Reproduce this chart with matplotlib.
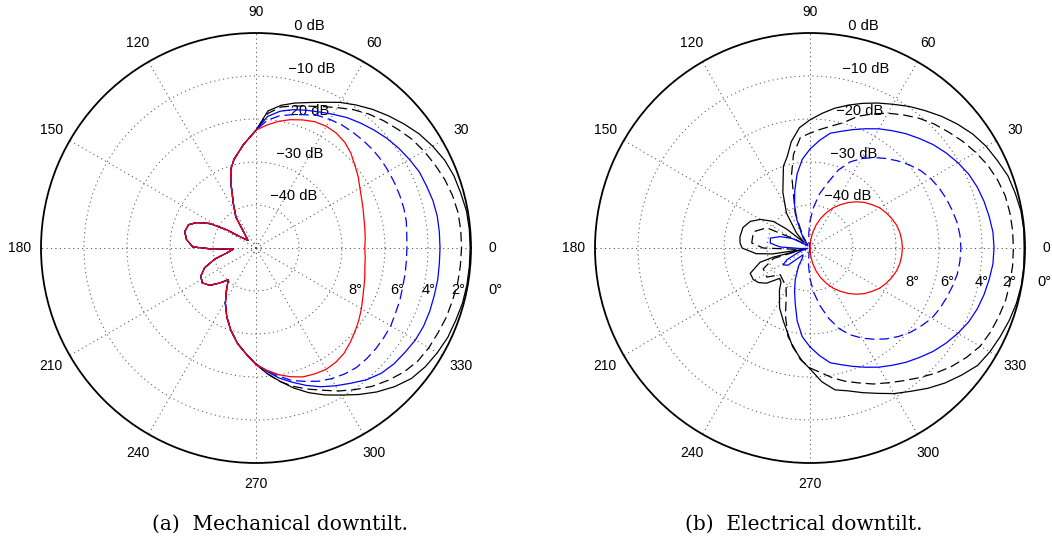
import numpy as np
import matplotlib.pyplot as plt

plt.rcParams['font.family'] = ['Liberation Sans', 'DejaVu Sans']
plt.rcParams['lines.scale_dashes'] = False

# azimuth samples (deg) of the front half, shared by all front-lobe arrays
front_deg = list(range(-90, 95, 5))

# ---- (a) mechanical downtilt: front lobe per tilt + shared back part (dB) ----
mech_0 = [-23.0, -20.7, -18.6, -16.3, -14.2, -12.3, -10.5, -8.4, -6.3, -4.4, -2.8, -1.9,
          -1.3, -0.8, -0.6, -0.3, -0.2, -0.2, -0.2, -0.2, -0.3, -0.7, -1.0, -1.6, -2.6,
          -3.7, -5.1, -6.5, -7.9, -9.4, -10.9, -12.6, -14.0, -15.1, -16.3, -18.0, -22.6]
mech_2 = [-23.0, -20.7, -18.5, -16.7, -15.1, -13.5, -11.6, -9.8, -8.0, -6.5, -5.1, -4.1,
          -3.6, -3.3, -2.9, -2.7, -2.4, -2.3, -2.2, -2.2, -2.3, -2.7, -3.3, -4.1, -4.9,
          -5.8, -7.0, -8.1, -9.3, -10.7, -12.3, -13.7, -14.9, -15.8, -16.7, -18.6, -22.6]
mech_4 = [-23.0, -21.2, -19.3, -17.7, -16.0, -14.4, -13.0, -11.6, -10.0, -8.8, -8.1, -7.7,
          -7.2, -7.0, -7.0, -7.1, -7.1, -7.2, -7.2, -7.2, -7.2, -7.4, -7.8, -8.1, -8.8,
          -9.5, -10.3, -11.2, -12.1, -13.0, -14.1, -15.1, -15.9, -16.7, -17.7, -19.3, -22.6]
mech_6 = [-23.0, -21.4, -19.8, -18.1, -17.0, -15.8, -14.9, -14.2, -13.7, -13.6, -13.6,
          -13.7, -13.8, -14.2, -14.4, -14.7, -14.8, -14.9, -14.9, -14.8, -14.5, -14.4,
          -14.4, -14.4, -14.4, -14.4, -14.5, -14.7, -14.9, -15.1, -15.5, -16.0, -17.0,
          -17.9, -18.8, -20.2, -22.6]
mech_8 = [-22.8, -21.5, -20.1, -19.0, -18.1, -17.7, -17.4, -17.6, -18.1, -19.0, -19.9,
          -20.8, -21.7, -22.6, -23.3, -23.8, -24.3, -24.5, -24.7, -24.5, -24.3, -24.0,
          -23.5, -22.9, -22.1, -21.0, -20.0, -18.8, -17.9, -17.4, -17.3, -17.6, -18.3,
          -19.1, -20.1, -21.3, -22.6]

mech_back_deg = [97, 104, 108, 112, 117, 123, 126, 131, 137, 146, 148, 152, 157,
                 161, 167, 173, 179, 181, 183, 190, 195, 201, 207, 213, 219, 224,
                 229, 234, 241, 247, 253, 259, 265]
mech_back_db = [-25.8, -28.8, -30.9, -34.7, -38.4, -41.4, -44.4, -46.5, -47.4, -44.7,
                -42.1, -37.9, -34.9, -33.4, -33.0, -33.7, -35.3, -39.3, -44.7, -43.0,
                -40.1, -37.2, -35.6, -35.1, -36.2, -38.3, -40.2, -38.4, -35.3, -32.6,
                -30.0, -27.4, -25.1]

# ---- (b) electrical downtilt: front lobe + own back part per tilt (dB) ----
elec_0 = [-21.9, -18.8, -16.5, -15.6, -14.2, -12.7, -10.9, -9.3, -7.4, -5.6, -4.0, -2.4,
          -1.7, -1.2, -0.7, -0.3, -0.1, -0.1, -0.2, -0.1, -0.2, -0.6, -1.0, -1.9, -2.7,
          -3.8, -5.2, -6.7, -8.3, -9.8, -11.4, -12.8, -14.2, -15.6, -17.0, -18.6, -20.2]
elec_0_back_deg = [95, 100, 104, 108, 116, 124, 132, 137, 141, 144, 150, 156, 163, 171,
                   176, 180, 186, 189, 192, 194, 196, 203, 209, 214, 219, 225, 230, 234,
                   243, 250, 260, 266]
elec_0_back = [-21.9, -24.9, -28.1, -30.0, -35.6, -40.2, -45.3, -48.1, -43.0, -39.5,
               -36.7, -34.8, -33.7, -33.5, -33.7, -34.2, -37.4, -41.2, -48.8, -41.2,
               -37.9, -34.9, -34.9, -35.6, -37.0, -40.0, -39.5, -37.9, -34.4, -31.9,
               -26.7, -23.7]

elec_2 = [-22.1, -20.9, -19.3, -17.9, -16.6, -15.1, -13.8, -12.3, -10.6, -8.8, -7.1,
          -5.6, -4.3, -3.7, -3.3, -2.9, -2.8, -2.7, -2.7, -2.7, -2.8, -3.0, -3.6, -4.4,
          -5.5, -6.7, -8.0, -9.2, -10.6, -12.2, -13.8, -15.6, -17.4, -19.8, -21.2, -22.3,
          -23.3]
elec_2_back_deg = [95, 100, 104, 113, 120, 127, 140, 149, 155, 164, 175, 180, 186, 190,
                   196, 204, 214, 222, 230, 238, 244, 250, 256, 265]
elec_2_back = [-24.2, -27.9, -32.3, -41.2, -46.5, -48.8, -49.3, -46.4, -38.9, -36.3,
               -36.4, -39.1, -47.0, -48.8, -41.2, -38.1, -37.9, -40.7, -40.2, -39.5,
               -37.4, -33.3, -28.8, -24.0]

elec_4 = [-27.0, -24.9, -22.9, -21.9, -20.7, -19.4, -18.0, -16.7, -15.3, -14.0, -12.6,
          -11.4, -10.3, -9.3, -8.6, -8.1, -7.7, -7.3, -7.2, -7.3, -7.7, -8.1, -8.6, -9.3,
          -10.3, -11.4, -12.6, -14.0, -15.3, -16.7, -18.0, -19.4, -20.7, -21.9, -22.9,
          -24.9, -27.0]
elec_4_back_deg = [95, 100, 105, 110, 115, 125, 135, 145, 152, 159, 166, 173, 178, 183,
                   190, 197, 202, 207, 212, 218, 224, 232, 238, 245, 250, 255, 260, 265]
elec_4_back = [-29.3, -32.6, -36.3, -39.5, -42.8, -47.2, -49.3, -48.1, -45.3, -42.6,
               -40.5, -40.7, -43.0, -47.7, -49.5, -48.1, -46.7, -44.0, -42.6, -43.5,
               -47.7, -47.2, -44.9, -41.9, -39.5, -36.7, -32.8, -29.3]

elec_6_deg = list(range(-105, 110, 5))
elec_6 = [-49.8, -48.6, -46.0, -42.8, -39.5, -36.3, -33.0, -30.0, -27.7, -25.8, -24.1,
          -22.4, -20.9, -19.5, -18.4, -17.3, -16.7, -16.2, -15.7, -15.2, -15.0, -14.9,
          -15.0, -15.3, -15.8, -16.3, -16.9, -17.6, -18.6, -19.9, -21.3, -22.8, -24.3,
          -26.0, -27.9, -30.7, -34.4, -37.2, -40.5, -43.7, -46.7, -48.8, -49.8]

elec_8 = [-50.0, -48.1, -46.3, -44.4, -42.6, -40.9, -39.2, -37.7, -36.2, -34.8, -33.5,
          -32.4, -31.3, -30.5, -29.8, -29.2, -28.8, -28.6, -28.5, -28.6, -28.8, -29.2,
          -29.8, -30.5, -31.3, -32.4, -33.5, -34.8, -36.2, -37.7, -39.2, -40.9, -42.6,
          -44.4, -46.3, -48.1, -50.0]

angle_labels = [0, 30, 60, 90, 120, 150, 180, 210, 240, 270, 300, 330]
ring_db = [-40, -30, -20, -10, 0]
tilt_labels = ['8°', '6°', '4°', '2°', '0°']

DB_MIN = -50
DASH = (0, (7, 3.5))
styles = [('k', '-'), ('k', DASH), ('b', '-'), ('b', DASH), ('r', '-')]


def setup(ax):
    ax.set_ylim(0, 50)
    ax.set_xticks([])
    ax.set_yticks([])
    ax.grid(False)
    ax.spines['polar'].set_linewidth(1.3)
    t = np.linspace(0, 2 * np.pi, 721)
    dots = dict(color='0.3', lw=0.7, ls=(0, (0.8, 2.4)), zorder=1)
    for rr in [1.2, 10, 20, 30, 40]:
        ax.plot(t, np.full_like(t, rr), **dots)
    for a in range(0, 360, 30):
        ax.plot([np.deg2rad(a)] * 2, [0, 50], **dots)
    for a in angle_labels:
        ax.text(np.deg2rad(a), 55, str(a), ha='center', va='center',
                fontsize=10, clip_on=False)
    for d in ring_db:
        ax.text(np.deg2rad(82), d - DB_MIN + 0.5, '  ' + str(d).replace('-', '\u2212') + ' dB',
                ha='left', va='bottom', fontsize=10.5, clip_on=False)


def draw(ax, deg, db, c, ls):
    ax.plot(np.deg2rad(deg), np.array(db) - DB_MIN, color=c, ls=ls, lw=0.9,
            solid_joinstyle='round', zorder=3)


fig = plt.figure(figsize=(10.52, 5.43), dpi=100)
W, H = 1052, 543
R = 215


def add_polar(cx, cy):
    return fig.add_axes([(cx - R) / W, (H - cy - R) / H, 2 * R / W, 2 * R / H],
                        projection='polar')


axa = add_polar(256, 248)
axb = add_polar(810, 248)
setup(axa)
setup(axb)

# (a) mechanical
for vals, (c, ls) in zip([mech_0, mech_2, mech_4, mech_6, mech_8], styles):
    draw(axa, front_deg + mech_back_deg + [front_deg[0] + 360],
         vals + mech_back_db + [vals[0]], c, ls)

# (b) electrical
for vals, bdeg, bdb, (c, ls) in zip([elec_0, elec_2, elec_4],
                                    [elec_0_back_deg, elec_2_back_deg, elec_4_back_deg],
                                    [elec_0_back, elec_2_back, elec_4_back], styles[:3]):
    draw(axb, front_deg + bdeg + [front_deg[0] + 360], vals + bdb + [vals[0]], c, ls)
draw(axb, elec_6_deg, elec_6, *styles[3])
draw(axb, front_deg, elec_8, *styles[4])

# tilt annotations
for x, lab in zip([355, 397, 429, 458, 495], tilt_labels):
    fig.text(x / W, 1 - 290 / H, lab, ha='center', va='center', fontsize=10.5)
for x, lab in zip([912, 947, 982, 1009, 1044], tilt_labels):
    fig.text(x / W, 1 - 282 / H, lab, ha='center', va='center', fontsize=10.5)

serif = ['DejaVu Serif', 'Liberation Serif']
fig.text(280 / W, 1 - 530 / H, '(a)  Mechanical downtilt.', ha='center', va='baseline',
         fontsize=14.5, family=serif)
fig.text(804 / W, 1 - 530 / H, '(b)  Electrical downtilt.', ha='center', va='baseline',
         fontsize=14.5, family=serif)

fig.savefig('out.png', dpi=100)
